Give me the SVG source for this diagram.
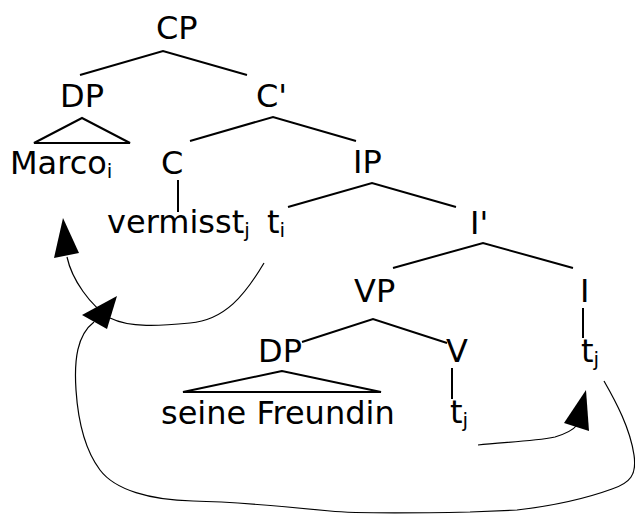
<svg xmlns="http://www.w3.org/2000/svg" width="635" height="514" viewBox="0 0 635 514">
<style>
text{font-family:"DejaVu Sans",sans-serif;font-size:32px;fill:#000}
.s{font-size:20px}
.e{stroke:#000;stroke-width:2;fill:none}
.tri{stroke:#000;stroke-width:2;fill:none;stroke-linejoin:miter}
.c{stroke:#000;stroke-width:1.2;fill:none}
.h{fill:#000;stroke:none}
</style>
<rect width="635" height="514" fill="#fff"/>
<g id="CP"><text x="156" y="39">CP</text></g>
<g id="DP1"><text x="60" y="107">DP</text></g>
<g id="Cbar"><text x="256" y="107">C'</text></g>
<g id="Marco"><text x="10" y="174">Marco<tspan class="s" dy="4">i</tspan></text></g>
<g id="C"><text x="161" y="174">C</text></g>
<g id="vermisst"><text x="107" y="233">vermisst<tspan class="s" dy="4">j</tspan></text></g>
<g id="ti"><text x="267" y="233">t<tspan class="s" dy="4">i</tspan></text></g>
<g id="IP"><text x="353" y="173">IP</text></g>
<g id="Ibar"><text x="470" y="234">I'</text></g>
<g id="VP"><text x="354" y="302">VP</text></g>
<g id="I"><text x="580" y="302">I</text></g>
<g id="DP2"><text x="258" y="362">DP</text></g>
<g id="V"><text x="446" y="362">V</text></g>
<g id="tjI"><text x="581" y="362">t<tspan class="s" dy="4">j</tspan></text></g>
<g id="seine"><text x="161" y="424">seine Freundin</text></g>
<g id="tjV"><text x="450" y="423">t<tspan class="s" dy="4">j</tspan></text></g>
<g id="connectors">
<path class="e" d="M80,75 L163,51 L247,75"/>
<path class="tri" d="M82,118 L34,143 L130,143 Z"/>
<path class="e" d="M190,141 L273,117 L356,141"/>
<path class="e" d="M178,180 L178,212"/>
<path class="e" d="M288,207 L372,183 L456,207"/>
<path class="e" d="M393,268 L483,243 L573,268"/>
<path class="e" d="M302,342 L373,319 L447,343"/>
<path class="tri" d="M282,371 L183,392 L381,392 Z"/>
<path class="e" d="M452,368 L452,399"/>
<path class="e" d="M583,308 L583,338"/>
<path class="c" d="M264,263 C245,295 225,320 190,323 C160,326 130,328 110,318 C90,305 72,280 67,257"/>
<polygon class="h" points="63,218 54,258 79,253"/>
<path class="c" d="M604,381 C616,402 630,428 634,455 C637,475 630,483 612,489 C590,497 560,505 517,510 L470,512 C420,513 360,514 330,511 C290,507 240,502 193,501 C150,500 115,490 100,470 C85,450 78,420 76,390 C74,360 77,335 94,322"/>
<polygon class="h" points="117,296 82,315 107,329"/>
<path class="c" d="M478,445 C500,442 530,442 555,437 C568,433 574,429 577,425"/>
<polygon class="h" points="586,390 564,423 589,431"/>
</g>
</svg>
